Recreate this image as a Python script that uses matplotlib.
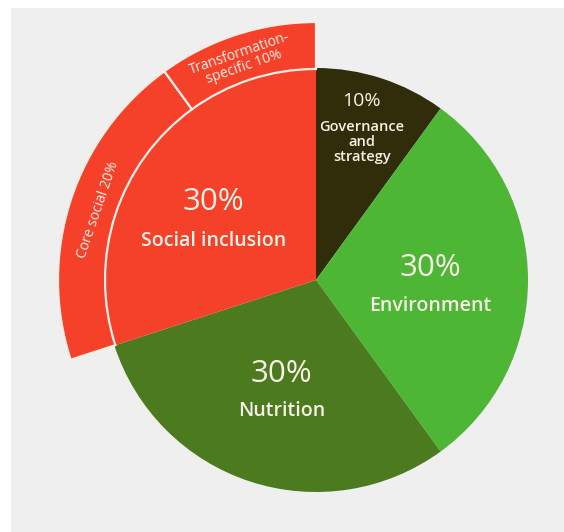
import matplotlib
matplotlib.use("Agg")
import matplotlib.pyplot as plt
from matplotlib.patches import Rectangle

# Data
categories = ["Governance and strategy", "Environment", "Nutrition", "Social inclusion"]
shares = [10, 30, 30, 30]
ring_labels = ["Core social 20%", "Transformation-\nspecific 10%"]
ring_shares = [20, 10]
colors = ["#312d0a", "#4db634", "#4b7a1f", "#f5412a"]

W, H = 564, 532
fig = plt.figure(figsize=(W / 100, H / 100), dpi=100)
fig.patch.set_facecolor("white")
fig.patches.append(Rectangle((11 / W, 0), 1 - 11 / W, (H - 8) / H,
                             transform=fig.transFigure, facecolor="#efefef",
                             edgecolor="none", zorder=-5))

cx, cy = 316, 280  # pixel centre (from top)
ax = fig.add_axes([0, 0, 1, 1])
ax.set_zorder(5)
ax.patch.set_alpha(0)
R = 212
R2 = 258

ax.pie(shares, colors=colors, startangle=90, counterclock=False, radius=R,
       wedgeprops=dict(linewidth=0))

gap = 100 - sum(ring_shares)
ring = ax.pie([gap] + ring_shares, colors=["none", colors[3], colors[3]],
              startangle=90, counterclock=False, radius=R2,
              wedgeprops=dict(width=R2 - R + 1, edgecolor="#fbeee6", linewidth=1.6))
ring[0][0].set_visible(False)

ax.set_xlim(-cx, W - cx)
ax.set_ylim(-(H - cy), cy)
ax.set_aspect("equal", adjustable="datalim")
ax.axis("off")

fam = ["Open Sans", "DejaVu Sans"]
tc = "#f7f1e6"

def P(x, y):
    return x - cx, cy - y

def txt(x, y, s, size, weight="semibold", rot=0, color=tc, ls=1.0):
    ax.text(*P(x, y), s, ha="center", va="center", fontsize=size, color=color,
            fontweight=weight, family=fam, rotation=rot, linespacing=ls,
            rotation_mode="anchor")

txt(361, 101, "10%", 14, weight="normal")
txt(362, 142, "Governance\nand\nstrategy", 10.5, ls=1.12)
txt(213, 202, "30%", 22.5, weight="normal")
txt(214, 241, "Social inclusion", 14)
txt(430, 268, "30%", 22.5, weight="normal")
txt(430, 306, "Environment", 14)
txt(281, 374, "30%", 22.5, weight="normal")
txt(282, 411, "Nutrition", 14)
txt(98, 210, ring_labels[0], 10, weight="normal", rot=71)
txt(242, 60, ring_labels[1], 10, weight="normal", rot=19, ls=0.95)

fig.savefig("out.png", dpi=100)
